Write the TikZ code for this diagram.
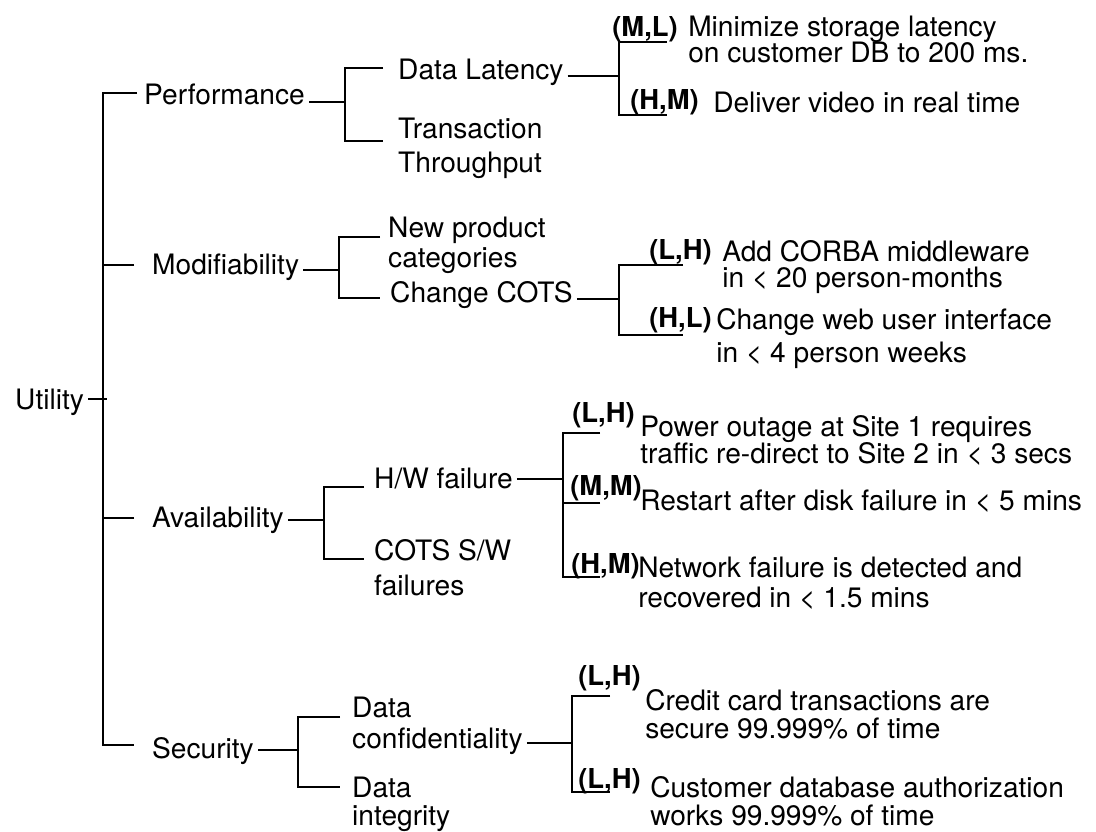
\documentclass[tikz,border=0pt]{standalone}
\usepackage{fontspec}
\setmainfont{TeX Gyre Heros}
\usetikzlibrary{calc}
\tikzstyle{attr}=[anchor=base west,inner sep=0pt,outer xsep=3pt,outer ysep=0pt,align=left,font=\fontsize{20}{21.3}\selectfont]
\tikzstyle{scen}=[anchor=base west,inner sep=0pt,align=left,font=\fontsize{20}{21.3}\selectfont]
\tikzstyle{rank}=[anchor=base west,inner sep=0pt,font=\fontsize{19.5}{21}\selectfont\bfseries]
\tikzstyle{branch}=[draw,line width=1pt]

\begin{document}
\begin{tikzpicture}[x=0.025cm,y=-0.025cm]
    \useasboundingbox (0,0) rectangle (1096,832);

    % quality attributes and their refinements (placed at the baseline of the last line)
    \foreach \pos/ \name/ \txt in {{(11,410)/util/Utility}, {(140,105)/perf/Performance}, {(148,275)/modif/Modifiability},
        {(148,527)/avail/Availability}, {(148,758)/secur/Security},
        {(394,80)/lat/Data Latency}, {(394,173)/thru/Transaction\\[2.9pt]Throughput},
        {(384,268)/newprod/New product\\[0.7pt]categories}, {(386,303)/cots/Change COTS},
        {(370,488)/hw/{H/W failure}}, {(370,595)/cotssw/{COTS S/W\\[2.9pt]failures}},
        {(348,748)/conf/Data\\[0.7pt]confidentiality}, {(348,825)/integ/Data\\[-1.4pt]integrity}}
        \node[attr] (\name) at \pos {\txt};

    % ratings
    \foreach \pos/ \name/ \txt in {{(612,37)/r1/(M,L)}, {(630,110)/r2/(H,M)}, {(649,260)/r3/(L,H)}, {(649,328)/r4/(H,L)},
        {(572,422)/r5/(L,H)}, {(570,495)/r6/(M,M)}, {(571,573)/r7/(H,M)}, {(578,685)/r8/(L,H)}, {(578,788)/r9/(L,H)}}
        \node[rank] (\name) at \pos {\txt};

    % scenarios
    \foreach \pos/ \name/ \txt in {{(688,63)/s1/Minimize storage latency\\[-2.8pt]on customer DB to 200 ms.},
        {(713,113)/s2/Deliver video in real time},
        {(722,288)/s3/Add CORBA middleware\\[-2.8pt]in < 20 person-months},
        {(716,363)/s4/Change web user interface\\[2.2pt]in < 4 person weeks},
        {(640,463)/s5/Power outage at Site 1 requires\\[-2.8pt]traffic re-direct to Site 2 in < 3 secs},
        {(640,510)/s6/Restart after disk failure in < 5 mins},
        {(638,607)/s7/Network failure is detected and\\recovered in < 1.5 mins},
        {(645,738)/s8/Credit card transactions are\\[-1.4pt]secure 99.999\% of time},
        {(650,825)/s9/Customer database authorization\\[-1.4pt]works 99.999\% of time}}
        \node[scen] (\name) at \pos {\txt};

    % junctions and branch tips
    \foreach \pos/ \name in {{(103,399)/utilJ}, {(345,102)/perfJ}, {(339,270)/modifJ}, {(324,520)/availJ}, {(298,750)/securJ},
        {(619,76)/latJ}, {(619,299)/cotsJ}, {(563,479)/hwJ}, {(572,743)/confJ},
        {(137,93)/perfT}, {(134,265)/modifT}, {(134,518)/availT}, {(134,745)/securT},
        {(383,68)/latT}, {(383,141)/thruT}, {(380,237)/newprodT}, {(380,298)/cotsT},
        {(364,487)/hwT}, {(364,559)/cotsswT}, {(340,717)/confT}, {(340,787)/integT},
        {(667,42)/r1T}, {(667,115)/r2T}, {(683,265)/r3T}, {(683,335)/r4T},
        {(600,433)/r5T}, {(600,503)/r6T}, {(600,577)/r7T}, {(610,696)/r8T}, {(610,792)/r9T}}
        \path \pos coordinate (\name);

    % utility tree
    \draw[branch] (util.east |- utilJ) -- ($(utilJ)+(4,0)$);
    \draw[branch] (perfT) -| (utilJ) |- (securT);
    \foreach \tip in {modifT, availT}
        \draw[branch] (\tip) -- (\tip -| utilJ);

    % attribute brackets
    \foreach \src/ \top/ \bot in {perf/latT/thruT, modif/newprodT/cotsT, avail/hwT/cotsswT, secur/confT/integT,
        lat/r1T/r2T, cots/r3T/r4T, hw/r5T/r7T, conf/r8T/r9T}
    {
        \draw[branch] (\src.east |- \src J) -- (\src J);
        \draw[branch] (\top) -| (\src J) |- (\bot);
    }
    \draw[branch] (r6T) -- (r6T -| hwJ);

\end{tikzpicture}
\end{document}
